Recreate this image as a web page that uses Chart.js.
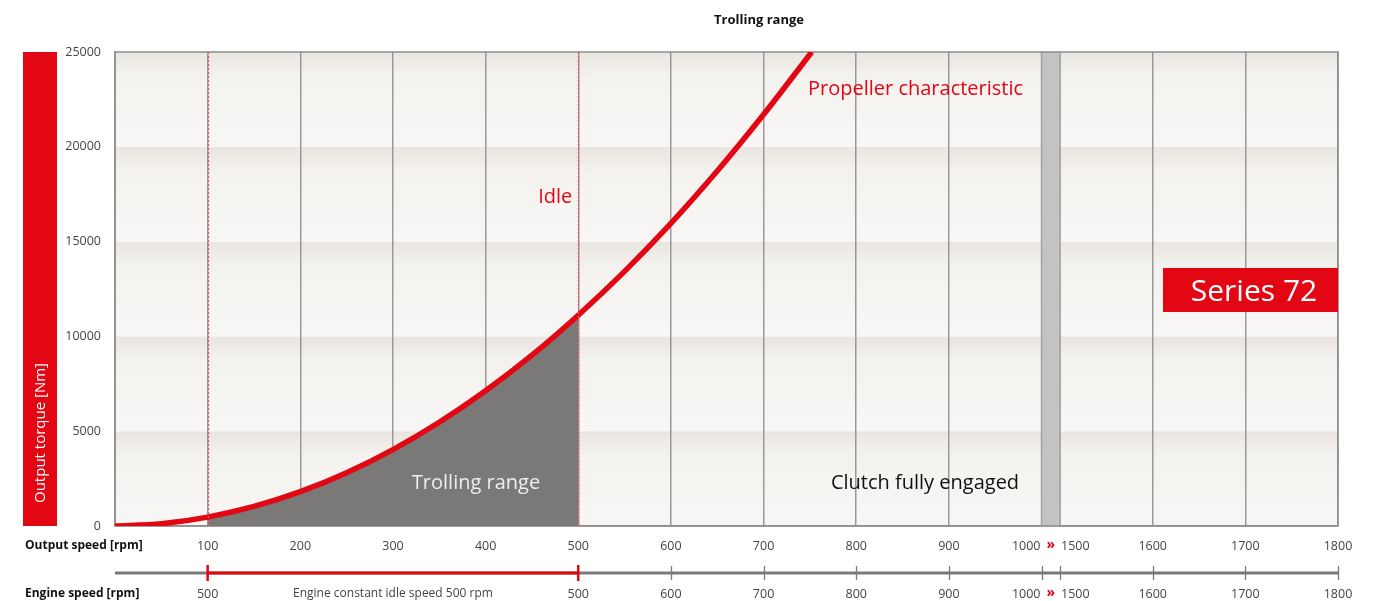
<!DOCTYPE html>
<html>
<head>
<meta charset="utf-8">
<script src="https://cdn.jsdelivr.net/npm/chart.js@4.4.1/dist/chart.umd.min.js"></script>
<style>
  html, body { margin: 0; padding: 0; background: #ffffff; }
  #wrap { width: 1382px; height: 601px; position: relative; }
</style>
</head>
<body>
<div id="wrap"><canvas id="c" width="1382" height="601"></canvas></div>
<script>
// ---------- data ----------
const title = 'Trolling range';
const yAxisTitle = 'Output torque [Nm]';
const yTicks = [0, 5000, 10000, 15000, 20000, 25000];
// output speed (rpm) ticks; 1000 -> 1500 is a scale break
const outputSpeedTicks = [100, 200, 300, 400, 500, 600, 700, 800, 900, 1000, 1500, 1600, 1700, 1800];
const engineSpeedLabels = ['500', '', '', '', '500', '600', '700', '800', '900', '1000', '1500', '1600', '1700', '1800'];
const breakFrom = 1000, breakTo = 1500, breakGap = 20; // axis units of the gap band
// propeller characteristic
const propSpeed  = [0,   50,  100, 150,  200,  250,  300,  350,  400,  450,  500,   550,   600,   650,   700,   752];
const propTorque = [0,  120,  470, 1030, 1810, 2810, 4030, 5470, 7130, 9010, 11120, 13430, 15960, 18720, 21700, 25000];
const trollFrom = 100, trollTo = 500, idleSpeed = 500;

// ---------- helpers ----------
const toAxis = v => v <= breakFrom ? v : v - (breakTo - breakFrom) + breakGap;
const axisTicks = outputSpeedTicks.map(toAxis);
const RED = '#e30613';
const FONT = "'Open Sans', 'Noto Sans', sans-serif";

const propData = propSpeed.map((s, i) => ({ x: s, y: propTorque[i] }));
const trollData = propData.filter(p => p.x >= trollFrom && p.x <= trollTo);

const deco = {
  id: 'deco',
  beforeDraw(chart) {
    const { ctx, chartArea: a, scales: { y } } = chart;
    ctx.save();
    for (let i = 0; i < yTicks.length - 1; i++) {
      const top = y.getPixelForValue(yTicks[i + 1]);
      const bot = y.getPixelForValue(yTicks[i]);
      const g = ctx.createLinearGradient(0, top, 0, bot);
      g.addColorStop(0, '#e9e5e0');
      g.addColorStop(0.25, '#f4f2ef');
      g.addColorStop(1, '#f8f7f5');
      ctx.fillStyle = g;
      ctx.fillRect(a.left, top, a.right - a.left, bot - top);
    }
    ctx.restore();
  },
  beforeDatasetsDraw(chart) {
    const { ctx, chartArea: a, scales: { x } } = chart;
    ctx.save();
    // break band
    const b0 = x.getPixelForValue(toAxis(breakFrom));
    const b1 = x.getPixelForValue(toAxis(breakTo));
    ctx.fillStyle = '#c5c3c1';
    ctx.fillRect(b0, a.top, b1 - b0, a.bottom - a.top);
    ctx.strokeStyle = '#a4a2a0';
    ctx.lineWidth = 1.5;
    ctx.beginPath();
    ctx.moveTo(b0, a.top); ctx.lineTo(b0, a.bottom);
    ctx.moveTo(b1, a.top); ctx.lineTo(b1, a.bottom);
    ctx.stroke();
    // frame
    ctx.strokeStyle = '#8f8d8b';
    ctx.lineWidth = 1.5;
    ctx.strokeRect(a.left, a.top, a.right - a.left, a.bottom - a.top);
    ctx.restore();
  },
  afterDatasetsDraw(chart) {
    const { ctx, chartArea: a, scales: { x, y } } = chart;
    ctx.save();
    ctx.strokeStyle = '#ee5560';
    ctx.lineWidth = 1.3;
    ctx.setLineDash([2, 2]);
    [trollFrom, idleSpeed].forEach(v => {
      const px = Math.round(x.getPixelForValue(v)) + 0.5;
      ctx.beginPath(); ctx.moveTo(px, a.top); ctx.lineTo(px, a.bottom); ctx.stroke();
    });
    ctx.restore();
  },
  afterDraw(chart) {
    const { ctx, chartArea: a, scales: { x, y } } = chart;
    ctx.save();
    // title
    ctx.fillStyle = '#111';
    ctx.font = `bold 13px ${FONT}`;
    ctx.textAlign = 'center'; ctx.textBaseline = 'middle';
    ctx.fillText(title, 759, 20);

    // left red bar with axis title
    ctx.fillStyle = RED;
    ctx.fillRect(23, a.top, 34, a.bottom - a.top);
    ctx.save();
    ctx.translate(41, 433);
    ctx.rotate(-Math.PI / 2);
    ctx.fillStyle = '#ffffff';
    ctx.font = `15px ${FONT}`;
    ctx.textAlign = 'center'; ctx.textBaseline = 'middle';
    ctx.fillText(yAxisTitle, 0, 0);
    ctx.restore();

    // in-plot labels
    ctx.textBaseline = 'middle';
    ctx.font = `20px ${FONT}`;
    ctx.fillStyle = RED;
    ctx.textAlign = 'left';
    ctx.fillText('Propeller characteristic', 808, 89);
    ctx.textAlign = 'right';
    ctx.fillText('Idle', x.getPixelForValue(idleSpeed) - 6, 197);
    ctx.textAlign = 'center';
    ctx.fillStyle = '#eeeeee';
    ctx.fillText('Trolling range', 476, 483);
    ctx.fillStyle = '#111111';
    ctx.fillText('Clutch fully engaged', 925, 483);

    // Series box
    ctx.fillStyle = RED;
    ctx.fillRect(1163, 268, a.right - 1163, 44);
    ctx.fillStyle = '#ffffff';
    ctx.font = `30px ${FONT}`;
    ctx.textAlign = 'center';
    ctx.fillText('Series 72', 1254, 292);

    // axis captions
    ctx.fillStyle = '#111';
    ctx.font = `bold 12px ${FONT}`;
    ctx.textAlign = 'left';
    ctx.fillText('Output speed [rpm]', 25, 546);
    ctx.fillText('Engine speed [rpm]', 25, 594);

    // break label on output axis
    const b0 = x.getPixelForValue(toAxis(breakFrom));
    const b1 = x.getPixelForValue(toAxis(breakTo));
    const drawBreak = (yy, l, r) => {
      ctx.font = `12.5px ${FONT}`;
      ctx.fillStyle = '#444';
      ctx.textAlign = 'right'; ctx.fillText(l, b0 - 1, yy);
      ctx.textAlign = 'left'; ctx.fillText(r, b1 + 1, yy);
      ctx.fillStyle = RED;
      ctx.font = `bold 14px ${FONT}`;
      ctx.textAlign = 'center'; ctx.fillText('»', (b0 + b1) / 2, yy - 1);
    };
    drawBreak(546, String(breakFrom), String(breakTo));

    // engine speed axis
    const ly = 573;
    ctx.strokeStyle = '#7a7a7a';
    ctx.lineWidth = 3;
    ctx.beginPath(); ctx.moveTo(a.left, ly); ctx.lineTo(a.right, ly); ctx.stroke();
    const t0 = x.getPixelForValue(trollFrom), t1 = x.getPixelForValue(trollTo);
    ctx.strokeStyle = RED;
    ctx.beginPath(); ctx.moveTo(t0, ly); ctx.lineTo(t1, ly); ctx.stroke();
    ctx.lineWidth = 1.3;
    ctx.strokeStyle = '#7a7a7a';
    axisTicks.forEach((v, i) => {
      if (outputSpeedTicks[i] <= trollTo) return;
      const px = Math.round(x.getPixelForValue(v)) + 0.5;
      ctx.beginPath(); ctx.moveTo(px, 566); ctx.lineTo(px, 580); ctx.stroke();
    });
    ctx.strokeStyle = RED; ctx.lineWidth = 2.5;
    [t0, t1].forEach(px => { ctx.beginPath(); ctx.moveTo(px, 565); ctx.lineTo(px, 581); ctx.stroke(); });

    ctx.font = `12.5px ${FONT}`;
    ctx.fillStyle = '#444';
    ctx.textAlign = 'center';
    axisTicks.forEach((v, i) => {
      const s = outputSpeedTicks[i];
      if (s === breakFrom || s === breakTo) return;
      if (engineSpeedLabels[i]) ctx.fillText(engineSpeedLabels[i], x.getPixelForValue(v), 594);
    });
    ctx.font = `12px ${FONT}`;
    ctx.fillText('Engine constant idle speed 500 rpm', x.getPixelForValue((trollFrom + trollTo) / 2), 594);
    drawBreak(594, String(breakFrom), String(breakTo));
    ctx.restore();
  }
};

new Chart(document.getElementById('c'), {
  type: 'line',
  data: {
    datasets: [
      {
        label: 'Propeller characteristic',
        data: propData,
        borderColor: RED,
        borderWidth: 5.5,
        pointRadius: 0,
        cubicInterpolationMode: 'monotone',
        fill: false,
        order: 1
      },
      {
        label: 'Trolling range',
        data: trollData,
        borderWidth: 0,
        borderColor: 'rgba(0,0,0,0)',
        backgroundColor: '#7a7978',
        pointRadius: 0,
        cubicInterpolationMode: 'monotone',
        fill: 'origin',
        order: 2
      }
    ]
  },
  options: {
    responsive: false,
    animation: false,
    events: [],
    layout: { padding: { top: 52, right: 44, left: 0, bottom: 0 } },
    plugins: { legend: { display: false }, tooltip: { enabled: false }, title: { display: false } },
    scales: {
      x: {
        type: 'linear',
        min: 0,
        max: toAxis(1800),
        afterBuildTicks: s => { s.ticks = axisTicks.map(v => ({ value: v })); },
        afterFit: s => { s.height = 75; },
        ticks: {
          autoSkip: false, maxRotation: 0, padding: 13,
          color: '#444', font: { family: FONT, size: 12.5 },
          callback: v => {
            const i = axisTicks.indexOf(v);
            const s = outputSpeedTicks[i];
            return (s === breakFrom || s === breakTo) ? '' : String(s);
          }
        },
        grid: { color: '#9b9997', lineWidth: 1.5, drawTicks: false },
        border: { display: true, color: '#8f8d8b', width: 1.5 }
      },
      y: {
        min: 0, max: 25000,
        afterBuildTicks: s => { s.ticks = yTicks.map(v => ({ value: v })); },
        afterFit: s => { s.width = 115; },
        ticks: { padding: 6, color: '#444', font: { family: FONT, size: 12.5 }, callback: v => String(v) },
        grid: { display: false },
        border: { display: true, color: '#a9a7a5', width: 2 }
      }
    }
  },
  plugins: [deco]
});
</script>
</body>
</html>
